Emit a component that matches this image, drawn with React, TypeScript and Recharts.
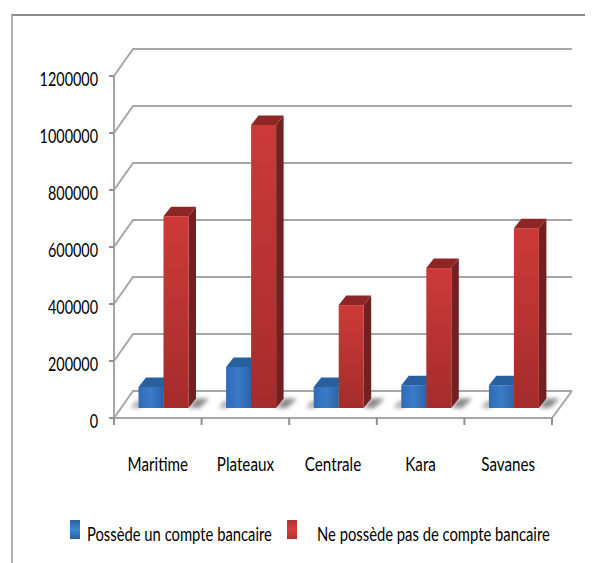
import React from "react";
import { BarChart, Bar, XAxis, YAxis, CartesianGrid, Customized } from "recharts";

const categories = ["Maritime", "Plateaux", "Centrale", "Kara", "Savanes"];
const possede = [74000, 144000, 74000, 80000, 80000];
const nePossede = [673000, 993000, 361000, 491000, 631000];
const yTicks = [0, 200000, 400000, 600000, 800000, 1000000, 1200000];
const legendLabels = ["Possède un compte bancaire", "Ne possède pas de compte bancaire"];
const data = categories.map((name, i) => ({ name, possede: possede[i], nePossede: nePossede[i] }));

const FONT = "Lato, 'Open Sans', sans-serif";
const GRID = "#a6a6a6";
const SX = 0.72;
const BAND = 87.6;

const Bar3D = (side: string, top: string, fill: string, shadowRight: boolean) => (p: any) => {
  const x = p.x + 5.5, y = p.y - 10, w = p.width, h = p.height;
  const d = 7.5, e = -9.5;
  const b = y + h;
  return (
    <g>
      {shadowRight ? (
        <polygon points={`${x + w},${b} ${x + w + d},${b + e} ${x + w + 21},${b + e} ${x + w + 11},${b}`} fill="#8a8a8a" filter="url(#blur)" />
      ) : (
        <polygon points={`${x - 8},${b} ${x},${b - 9} ${x + 3},${b}`} fill="#a8a8a8" filter="url(#blur)" />
      )}
      <polygon points={`${x + w},${y} ${x + w + d},${y + e} ${x + w + d},${b + e} ${x + w},${b}`} fill={side} />
      <polygon points={`${x},${y} ${x + d},${y + e} ${x + w + d},${y + e} ${x + w},${y}`} fill={top} />
      <rect x={x} y={y} width={w} height={h} fill={fill} />
    </g>
  );
};

const HLine = (p: any) => {
  const { x1, x2, y1 } = p;
  return (
    <polyline points={`${x1},${y1} ${x1 + 19},${y1 - 27} ${x2 + 20},${y1 - 27}`} fill="none" stroke={GRID} strokeWidth={2} />
  );
};

const Floor = () => <line x1={544} y1={410} x2={564} y2={383} stroke={GRID} strokeWidth={2} />;

const XTick = (p: any) => {
  const left = p.x - BAND / 2;
  const isLast = p.index === categories.length - 1;
  return (
    <g>
      <line x1={left} x2={left} y1={p.y - 8} y2={p.y - 1} stroke="#909090" strokeWidth={2} />
      {isLast && <line x1={left + BAND} x2={left + BAND} y1={p.y - 8} y2={p.y - 1} stroke="#909090" strokeWidth={2} />}
      <text transform={`translate(${p.x},${p.y + 45}) scale(0.76,1)`} textAnchor="middle" fill="#000" fontSize={20} fontFamily={FONT}>
        {p.payload.value}
      </text>
    </g>
  );
};
const YTick = (p: any) => (
  <text transform={`translate(90,${p.y + 10}) scale(${SX},1)`} textAnchor="end" fill="#000" fontSize={20} fontFamily={FONT}>
    {p.payload.value}
  </text>
);

export default function App() {
  return (
    <div style={{ position: "relative", width: 585, height: 555 }}>
      <div style={{ position: "absolute", left: 3, top: 6, width: 582, height: 549, borderLeft: "2px solid #b0b0b0", borderTop: "2px solid #8a8a8a", boxSizing: "border-box" }} />
      <div style={{ position: "absolute", left: 0, top: 0 }}>
        <BarChart
          width={585}
          height={555}
          data={data}
          barSize={25}
          barGap={0}
          margin={{ top: 68, right: 41, bottom: 115, left: 0 }}
        >
          <defs>
            <linearGradient id="blueG" x1="0" x2="1" y1="0" y2="0">
              <stop offset="0" stopColor="#2f6bb5" />
              <stop offset="0.5" stopColor="#3a7cc8" />
              <stop offset="1" stopColor="#2b62a8" />
            </linearGradient>
            <linearGradient id="redG" x1="0" x2="0" y1="0" y2="1">
              <stop offset="0" stopColor="#cc3a38" />
              <stop offset="1" stopColor="#a52c2c" />
            </linearGradient>
            <filter id="blur" x="-60%" y="-60%" width="220%" height="220%"><feGaussianBlur stdDeviation="2.2" /></filter>
          </defs>
          <CartesianGrid vertical={false} horizontal={HLine} />
          <Customized component={Floor} />
          <XAxis
            dataKey="name"
            height={30}
            axisLine={{ stroke: GRID, strokeWidth: 2 }}
            tickLine={false}
            tick={XTick}
            interval={0}
          />
          <YAxis
            domain={[0, 1200000]}
            ticks={yTicks}
            width={106}
            axisLine={{ stroke: GRID, strokeWidth: 2 }}
            tickLine={{ stroke: "#909090", strokeWidth: 2 }}
            tickSize={5}
            tick={YTick}
            interval={0}
          />
          <Bar dataKey="possede" isAnimationActive={false} shape={Bar3D("#1f4e86", "#28609f", "url(#blueG)", false)} />
          <Bar dataKey="nePossede" isAnimationActive={false} shape={Bar3D("#742020", "#8f2626", "url(#redG)", true)} />
        </BarChart>
      </div>
      <svg width={585} height={60} style={{ position: "absolute", left: 0, top: 495 }}>
        <defs>
          <linearGradient id="lb" x1="0" x2="0" y1="0" y2="1">
            <stop offset="0" stopColor="#2a5f9f" />
            <stop offset="0.5" stopColor="#3f86d0" />
            <stop offset="1" stopColor="#2a5f9f" />
          </linearGradient>
          <linearGradient id="lr" x1="0" x2="0" y1="0" y2="1">
            <stop offset="0" stopColor="#b03030" />
            <stop offset="0.5" stopColor="#d8403e" />
            <stop offset="1" stopColor="#b03030" />
          </linearGradient>
        </defs>
        <rect x={62} y={17} width={10} height={19} fill="url(#lb)" />
        <text transform="translate(79,38) scale(0.74,1)" fontSize={20} fontFamily={FONT} fill="#000">{legendLabels[0]}</text>
        <rect x={279} y={17} width={10} height={19} fill="url(#lr)" />
        <text transform="translate(309,38) scale(0.74,1)" fontSize={20} fontFamily={FONT} fill="#000">{legendLabels[1]}</text>
      </svg>
    </div>
  );
}
